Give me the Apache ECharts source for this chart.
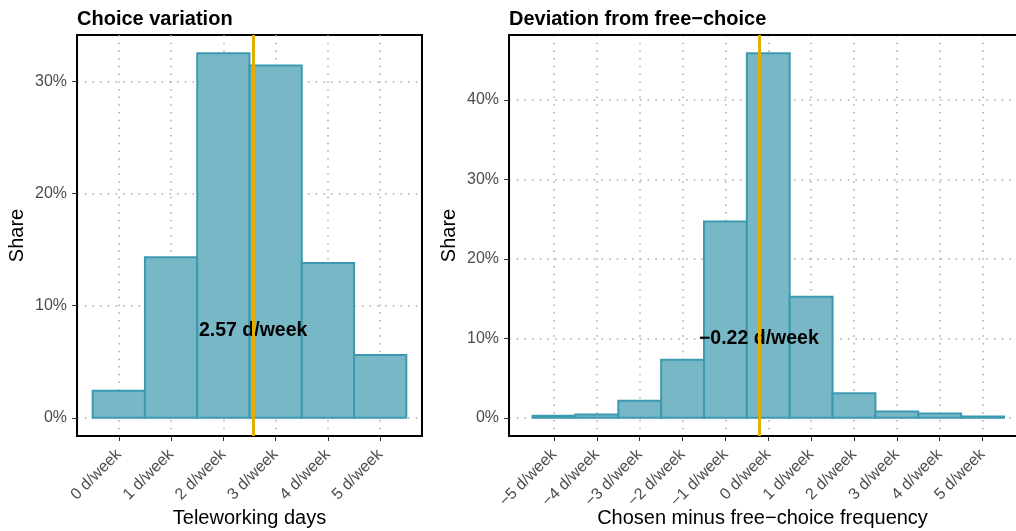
<!DOCTYPE html>
<html>
<head>
<meta charset="utf-8">
<script src="https://cdn.jsdelivr.net/npm/echarts@6/dist/echarts.min.js"></script>
<style>
  html, body { margin: 0; padding: 0; background: #fff; }
  #chart { width: 1016px; height: 531px; }
</style>
</head>
<body>
<div id="chart"></div>
<script>
// left panel - choice variation
const choiceDays = [0, 1, 2, 3, 4, 5];
const choiceShare = [2.4, 14.3, 32.5, 31.4, 13.8, 5.6];
const choiceMean = 2.57;
const choiceMeanLabel = '2.57 d/week';
const choiceLabelY = 7.75;
const choiceTicksY = [0, 10, 20, 30];

// right panel - deviation from free-choice
const devDays = [-5, -4, -3, -2, -1, 0, 1, 2, 3, 4, 5];
const devShare = [0.25, 0.4, 2.15, 7.3, 24.7, 45.9, 15.25, 3.1, 0.8, 0.55, 0.15];
const devMean = -0.22;
const devMeanLabel = '\u22120.22 d/week';
const devLabelY = 10;
const devTicksY = [0, 10, 20, 30, 40];
// the original figure is cut off at the right, inside this panel
const devVisibleMax = 5.78;

const FONT = 'Liberation Sans, Arial, sans-serif';
const FILL = '#78B7C5';
const EDGE = '#3B9AB2';
const MEAN = '#E1AF00';

// ggplot style 5% expansion
function xLimits(days) {
  const lo = Math.min(...days) - 0.5, hi = Math.max(...days) + 0.5;
  const pad = (hi - lo) * 0.05;
  return [lo - pad, hi + pad];
}
function yLimits(vals) {
  const hi = Math.max(...vals);
  return [-hi * 0.05, hi * 1.05];
}
const dayLabel = v => (v < 0 ? '\u2212' + (-v) : v) + ' d/week';

const gridLine = { show: true, lineStyle: { color: '#a8a8a8', width: 1.5, type: [1.5, 6.2] } };
const frame = { show: true, onZero: false, lineStyle: { color: '#000', width: 2 } };

function xAxisFor(idx, days, lim, name) {
  return {
    type: 'value', gridIndex: idx, min: lim[0], max: lim[1],
    name: name, nameLocation: 'middle', nameGap: 72, nameMoveOverlap: false,
    nameTextStyle: { color: '#000', fontSize: 20, fontFamily: FONT },
    axisLine: frame,
    axisTick: { show: true, customValues: days, length: 5, lineStyle: { color: '#333', width: 1 } },
    axisLabel: { customValues: days, rotate: 45, margin: 16, padding: [9, 0, 0, 0],
      color: '#4d4d4d', fontSize: 16, fontFamily: FONT, formatter: dayLabel },
    splitLine: gridLine
  };
}
function yAxisFor(idx, vals, ticks) {
  const lim = yLimits(vals);
  return {
    type: 'value', gridIndex: idx, min: lim[0], max: lim[1],
    name: 'Share', nameLocation: 'middle', nameGap: 50, nameMoveOverlap: false,
    nameTextStyle: { color: '#000', fontSize: 20, fontFamily: FONT },
    axisLine: frame,
    axisTick: { show: true, customValues: ticks, length: 5, lineStyle: { color: '#333', width: 1 } },
    axisLabel: { customValues: ticks, margin: 10, color: '#4d4d4d', fontSize: 16, fontFamily: FONT, formatter: v => v + '%' },
    splitLine: gridLine
  };
}

function barSeries(idx, days, share) {
  return {
    type: 'custom', xAxisIndex: idx, yAxisIndex: idx, z: 2,
    data: days.map((d, i) => [d, share[i]]),
    renderItem: function (params, api) {
      const tl = api.coord([api.value(0) - 0.5, api.value(1)]);
      const br = api.coord([api.value(0) + 0.5, 0]);
      return {
        type: 'rect',
        shape: { x: tl[0], y: tl[1], width: br[0] - tl[0], height: br[1] - tl[1] },
        style: { fill: FILL, stroke: EDGE, lineWidth: 2 }
      };
    }
  };
}
function meanSeries(idx, mean) {
  return {
    type: 'line', xAxisIndex: idx, yAxisIndex: idx, z: 3, data: [],
    markLine: {
      silent: true, symbol: 'none', label: { show: false },
      lineStyle: { color: MEAN, width: 3, type: 'solid' },
      data: [{ xAxis: mean }]
    }
  };
}
function labelSeries(idx, mean, y, text) {
  return {
    type: 'custom', xAxisIndex: idx, yAxisIndex: idx, z: 4,
    data: [[mean, y]],
    renderItem: function (params, api) {
      const p = api.coord([api.value(0), api.value(1)]);
      return {
        type: 'text', x: p[0], y: p[1],
        style: { text: text, fill: '#000', font: 'bold 19.5px ' + FONT, textAlign: 'center', textVerticalAlign: 'middle' }
      };
    }
  };
}

const choiceX = xLimits(choiceDays);
const devX = [xLimits(devDays)[0], devVisibleMax];

const chart = echarts.init(document.getElementById('chart'), null, { renderer: 'canvas' });
chart.setOption({
  animation: false,
  backgroundColor: '#fff',
  title: [
    { text: 'Choice variation', left: 77, top: 9, padding: 0, textStyle: { fontSize: 20, fontWeight: 'bold', color: '#000', fontFamily: FONT } },
    { text: 'Deviation from free\u2212choice', left: 509, top: 9, padding: 0, textStyle: { fontSize: 20, fontWeight: 'bold', color: '#000', fontFamily: FONT } }
  ],
  grid: [
    { left: 77, top: 35, width: 345, height: 401, containLabel: false, outerBoundsMode: 'none',
      show: true, borderColor: '#000', borderWidth: 2, backgroundColor: '#fff' },
    { left: 509, top: 35, width: 507, height: 401, containLabel: false, outerBoundsMode: 'none', show: false }
  ],
  xAxis: [
    xAxisFor(0, choiceDays, choiceX, 'Teleworking days'),
    xAxisFor(1, devDays, devX, 'Chosen minus free\u2212choice frequency'),
    // top frame edge of the right panel
    { type: 'value', gridIndex: 1, position: 'top', min: devX[0], max: devX[1],
      axisLine: frame, axisTick: { show: false }, axisLabel: { show: false }, splitLine: { show: false } }
  ],
  yAxis: [
    yAxisFor(0, choiceShare, choiceTicksY),
    yAxisFor(1, devShare, devTicksY)
  ],
  series: [
    barSeries(0, choiceDays, choiceShare),
    meanSeries(0, choiceMean),
    labelSeries(0, choiceMean, choiceLabelY, choiceMeanLabel),
    barSeries(1, devDays, devShare),
    meanSeries(1, devMean),
    labelSeries(1, devMean, devLabelY, devMeanLabel)
  ]
});
</script>
</body>
</html>
